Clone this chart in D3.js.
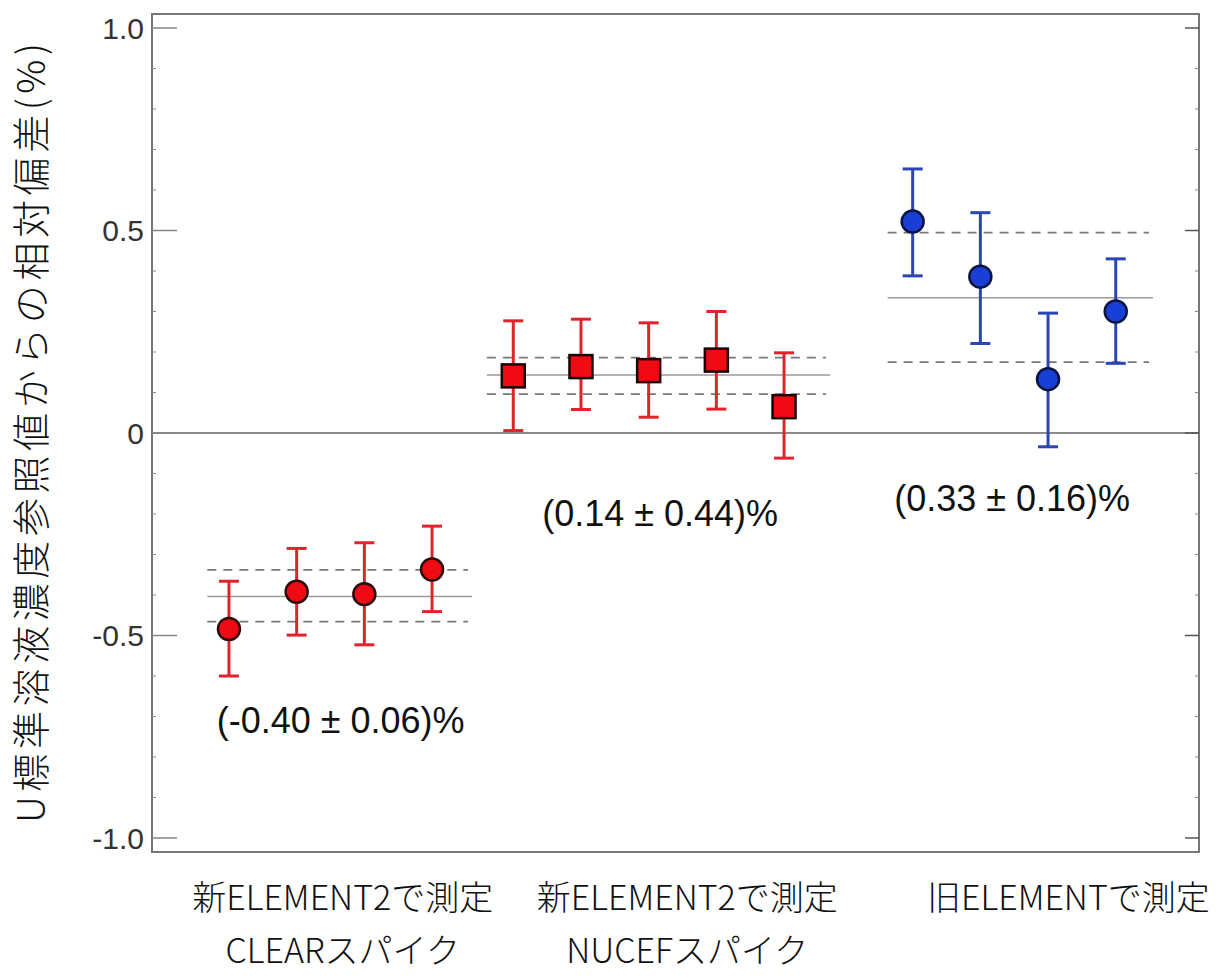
<!DOCTYPE html>
<html lang="ja">
<head>
<meta charset="UTF-8" />
<title>U標準溶液濃度参照値からの相対偏差</title>
<script src="https://cdnjs.cloudflare.com/ajax/libs/d3/7.8.5/d3.min.js"></script>
<style>
  body { margin: 0; background: #fff; }
  text { font-family: "Liberation Sans", Arial, sans-serif; }
  .cjk { font-family: "Noto Sans CJK JP", sans-serif; font-weight: 300; }
</style>
</head>
<body>
<div id="chart"></div>
<script>
// group 1: new ELEMENT2, CLEAR spike (circles)
const g1Pos = [1, 2, 3, 4];
const g1Val = [-0.484, -0.392, -0.398, -0.337];
const g1Hi = [-0.366, -0.285, -0.271, -0.230];
const g1Lo = [-0.600, -0.499, -0.523, -0.441];
const g1Stats = { mean: -0.404, hi: -0.338, lo: -0.466, from: 0.68, to: 4.59 };

// group 2: new ELEMENT2, NUCEF spike (squares)
const g2Pos = [5.2, 6.2, 7.2, 8.2, 9.2];
const g2Val = [0.141, 0.164, 0.154, 0.180, 0.065];
const g2Hi = [0.277, 0.281, 0.272, 0.300, 0.198];
const g2Lo = [0.006, 0.058, 0.039, 0.059, -0.062];
const g2Stats = { mean: 0.143, hi: 0.186, lo: 0.096, from: 4.81, to: 9.88 };

// group 3: old ELEMENT (blue circles)
const g3Pos = [11.1, 12.1, 13.1, 14.1];
const g3Val = [0.522, 0.386, 0.133, 0.300];
const g3Hi = [0.652, 0.544, 0.296, 0.430];
const g3Lo = [0.388, 0.221, -0.034, 0.172];
const g3Stats = { mean: 0.334, hi: 0.495, lo: 0.175, from: 10.73, to: 14.65 };

const yTicks = [1.0, 0.5, 0, -0.5, -1.0];
const yTickLabels = ["1.0", "0.5", "0", "-0.5", "-1.0"];
const annotations = [
  { text: "(-0.40 \u00b1 0.06)%", x: 2.65, y: -0.74 },
  { text: "(0.14 \u00b1 0.44)%", x: 7.37, y: -0.23 },
  { text: "(0.33 \u00b1 0.16)%", x: 12.57, y: -0.193 }
];
const catLabels = [
  { lines: ["新ELEMENT2で測定", "CLEARスパイク"], x: 2.68 },
  { lines: ["新ELEMENT2で測定", "NUCEFスパイク"], x: 7.77 },
  { lines: ["旧ELEMENTで測定"], x: 13.4 }
];
const yTitle = "U標準溶液濃度参照値からの相対偏差(%)";

const W = 1225, H = 979;
const plot = { left: 152, right: 1199, top: 14, bottom: 852 };

const svg = d3.select("#chart").append("svg")
  .attr("width", W).attr("height", H);

const x = d3.scaleLinear().domain([-0.137, 15.33]).range([plot.left, plot.right]);
const y = d3.scaleLinear().domain([-1.0346, 1.0346]).range([plot.bottom, plot.top]);

// zero line
svg.append("line")
  .attr("x1", plot.left).attr("x2", plot.right)
  .attr("y1", y(0)).attr("y2", y(0))
  .attr("stroke", "#8a8a8a").attr("stroke-width", 2);

// group mean lines
[g1Stats, g2Stats, g3Stats].forEach((s) => {
  svg.append("line")
    .attr("x1", x(s.from)).attr("x2", x(s.to))
    .attr("y1", y(s.mean)).attr("y2", y(s.mean))
    .attr("stroke", "#9a9a9a").attr("stroke-width", 1.5);
  [s.hi, s.lo].forEach((v) => {
    svg.append("line")
      .attr("x1", x(s.from)).attr("x2", x(s.to) - 4)
      .attr("y1", y(v)).attr("y2", y(v))
      .attr("stroke", "#777").attr("stroke-width", 1.8)
      .attr("stroke-dasharray", "9,7");
  });
});

function drawGroup(pos, val, hi, lo, color, fill, stroke, shape) {
  const data = pos.map((p, i) => ({ p, v: val[i], hi: hi[i], lo: lo[i] }));
  const g = svg.append("g");
  g.selectAll(".eb").data(data).enter().append("line")
    .attr("x1", (d) => x(d.p)).attr("x2", (d) => x(d.p))
    .attr("y1", (d) => y(d.hi)).attr("y2", (d) => y(d.lo))
    .attr("stroke", color).attr("stroke-width", 3);
  ["hi", "lo"].forEach((k) => {
    g.selectAll(".cap-" + k).data(data).enter().append("line")
      .attr("x1", (d) => x(d.p) - 10).attr("x2", (d) => x(d.p) + 10)
      .attr("y1", (d) => y(d[k])).attr("y2", (d) => y(d[k]))
      .attr("stroke", color).attr("stroke-width", 3);
  });
  if (shape === "square") {
    g.selectAll(".mk").data(data).enter().append("rect")
      .attr("x", (d) => x(d.p) - 11.5).attr("y", (d) => y(d.v) - 11.5)
      .attr("width", 23).attr("height", 23)
      .attr("fill", fill).attr("stroke", stroke).attr("stroke-width", 2.5);
  } else {
    g.selectAll(".mk").data(data).enter().append("circle")
      .attr("cx", (d) => x(d.p)).attr("cy", (d) => y(d.v)).attr("r", 11)
      .attr("fill", fill).attr("stroke", stroke).attr("stroke-width", 2.5);
  }
}

drawGroup(g1Pos, g1Val, g1Hi, g1Lo, "#e0242c", "#f00a14", "#2a0a0a", "circle");
drawGroup(g2Pos, g2Val, g2Hi, g2Lo, "#e0242c", "#f00a14", "#1a0505", "square");
drawGroup(g3Pos, g3Val, g3Hi, g3Lo, "#2b45b5", "#1a3fd6", "#0a1440", "circle");

// frame
svg.append("rect")
  .attr("x", plot.left).attr("y", plot.top)
  .attr("width", plot.right - plot.left).attr("height", plot.bottom - plot.top)
  .attr("fill", "none").attr("stroke", "#777").attr("stroke-width", 2);

// y ticks: major on both sides, minor at 0.1
const minor = d3.range(-10, 11).map((i) => i / 10).filter((v) => Math.abs(v * 2 - Math.round(v * 2)) > 1e-6);
svg.selectAll(".minorL").data(minor).enter().append("line")
  .attr("x1", plot.left).attr("x2", plot.left + 4)
  .attr("y1", (d) => y(d)).attr("y2", (d) => y(d))
  .attr("stroke", "#888").attr("stroke-width", 1);
svg.selectAll(".minorR").data(minor).enter().append("line")
  .attr("x1", plot.right - 4).attr("x2", plot.right)
  .attr("y1", (d) => y(d)).attr("y2", (d) => y(d))
  .attr("stroke", "#888").attr("stroke-width", 1);
svg.selectAll(".majorL").data(yTicks).enter().append("line")
  .attr("x1", plot.left).attr("x2", plot.left + 25)
  .attr("y1", (d) => y(d)).attr("y2", (d) => y(d))
  .attr("stroke", "#888").attr("stroke-width", 1.5);
svg.selectAll(".majorR").data(yTicks).enter().append("line")
  .attr("x1", plot.right - 14).attr("x2", plot.right)
  .attr("y1", (d) => y(d)).attr("y2", (d) => y(d))
  .attr("stroke", "#555").attr("stroke-width", 1.5);
svg.selectAll(".ylab").data(yTicks).enter().append("text")
  .attr("x", plot.left - 8).attr("y", (d) => y(d))
  .attr("dy", "0.36em").attr("text-anchor", "end")
  .attr("font-size", 30).attr("fill", "#333")
  .text((d, i) => yTickLabels[i]);

// annotations
svg.selectAll(".ann").data(annotations).enter().append("text")
  .attr("x", (d) => x(d.x)).attr("y", (d) => y(d.y))
  .attr("text-anchor", "middle").attr("font-size", 36).attr("fill", "#111")
  .text((d) => d.text);

// category labels
catLabels.forEach((c) => {
  c.lines.forEach((t, i) => {
    svg.append("text").attr("class", "cjk")
      .attr("x", x(c.x)).attr("y", 910 + i * 53)
      .attr("text-anchor", "middle").attr("font-size", 34).attr("fill", "#111")
      .text(t);
  });
});

// y title
svg.append("text").attr("class", "cjk")
  .attr("transform", `translate(45,${(40 + 826) / 2}) rotate(-90)`)
  .attr("text-anchor", "middle").attr("font-size", 38).attr("fill", "#111")
  .attr("textLength", 780).attr("lengthAdjust", "spacing")
  .text(yTitle);
</script>
</body>
</html>
